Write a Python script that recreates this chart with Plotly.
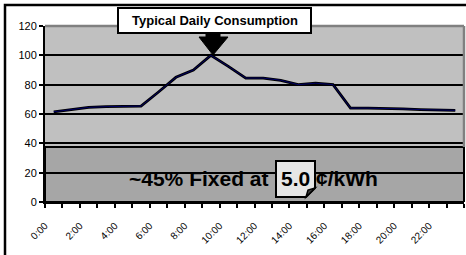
import plotly.graph_objects as go

# ---- data ----
hours = ["0:00", "1:00", "2:00", "3:00", "4:00", "5:00", "6:00", "7:00",
         "8:00", "9:00", "10:00", "11:00", "12:00", "13:00", "14:00", "15:00",
         "16:00", "17:00", "18:00", "19:00", "20:00", "21:00", "22:00", "23:00"]
consumption = [61.5, 63, 64.5, 65, 65.2, 65.4, 75, 85, 90, 100, 92.5, 84.5,
               84.5, 83, 80, 81, 80, 64, 64, 64, 63.5, 63, 63, 62.5]
y_ticks = [0, 20, 40, 60, 80, 100, 120]
fixed_level = 37.5
title_text = "Typical Daily Consumption"
fixed_text_left = "~45% Fixed at"
fixed_price = "5.0"
fixed_text_right = "¢/kWh"

# ---- layout geometry (pixels) ----
FIG_W, FIG_H = 466, 255
L, R, T, B = 45, 2, 26, 53
W = FIG_W - L - R
H = FIG_H - T - B


def px(x):
    return (x - L) / W


def py(y):
    return (T + H - y) / H


FONT = "Arial, Liberation Sans, sans-serif"
xpos = list(range(len(hours)))
# tick marks sit on category boundaries; labels every second hour
tick_pos = [i - 0.5 for i in range(len(hours) + 1)]
tick_txt = [hours[i] if (i < len(hours) and i % 2 == 0) else "" for i in range(len(hours) + 1)]

fig = go.Figure()
fig.add_trace(go.Scatter(x=xpos, y=consumption, mode="lines",
                         line=dict(color="black", width=2.8),
                         hoverinfo="skip", showlegend=False))
fig.add_trace(go.Scatter(x=xpos, y=consumption, mode="lines",
                         line=dict(color="#000080", width=0.8),
                         showlegend=False))

shapes = []
# fixed region
shapes.append(dict(type="rect", xref="paper", yref="y", x0=0, x1=1, y0=0,
                   y1=fixed_level, fillcolor="#A6A6A6",
                   line=dict(color="black", width=2), layer="between"))
# gray top/right border of plot
shapes.append(dict(type="line", xref="paper", yref="paper", x0=0, x1=1, y0=1, y1=1,
                   line=dict(color="#808080", width=2.5)))
shapes.append(dict(type="line", xref="paper", yref="paper", x0=1, x1=1,
                   y0=py(147), y1=1, line=dict(color="#808080", width=2.5)))
# outer frame
shapes.append(dict(type="path", xref="paper", yref="paper",
                   path=f"M {px(5)},{py(262)} L {px(5)},{py(5)} L {px(470)},{py(5)}",
                   line=dict(color="black", width=2.5)))
# title note box
shapes.append(dict(type="rect", xref="paper", yref="paper",
                   x0=px(118), x1=px(311), y0=py(33), y1=py(8),
                   fillcolor="white", line=dict(color="black", width=2)))
# block arrow
arrow = [(206, 33), (220, 33), (220, 37), (228, 37), (213, 55), (199, 37), (206, 37)]
path = "M " + " L ".join(f"{px(a)},{py(b)}" for a, b in arrow) + " Z"
shapes.append(dict(type="path", xref="paper", yref="paper", path=path,
                   fillcolor="black", line=dict(color="black", width=1)))
# price note box with folded corner
note = [(276, 161), (315, 161), (315, 188), (306, 197), (276, 197)]
path = "M " + " L ".join(f"{px(a)},{py(b)}" for a, b in note) + " Z"
shapes.append(dict(type="path", xref="paper", yref="paper", path=path,
                   fillcolor="#E6E6E6", line=dict(color="black", width=2)))
fold = [(306, 197), (308, 190), (315, 188)]
path = "M " + " L ".join(f"{px(a)},{py(b)}" for a, b in fold) + " Z"
shapes.append(dict(type="path", xref="paper", yref="paper", path=path,
                   fillcolor="#404040", line=dict(color="black", width=1.5)))

annotations = [
    dict(text=f"<b>{title_text}</b>", xref="paper", yref="paper",
         x=px(214.5), y=py(20.5), showarrow=False, xanchor="center", yanchor="middle",
         font=dict(family=FONT, size=13, color="black")),
    dict(text=f"<b>{fixed_text_left}</b>", xref="paper", yref="paper",
         x=px(270), y=py(178), showarrow=False, xanchor="right", yanchor="middle",
         font=dict(family=FONT, size=21, color="black")),
    dict(text=f"<b>{fixed_price}</b>", xref="paper", yref="paper",
         x=px(295.5), y=py(178), showarrow=False, xanchor="center", yanchor="middle",
         font=dict(family=FONT, size=21, color="black")),
    dict(text=f"<b>{fixed_text_right}</b>", xref="paper", yref="paper",
         x=px(314), y=py(178), showarrow=False, xanchor="left", yanchor="middle",
         font=dict(family=FONT, size=21, color="black")),
]

fig.update_layout(
    width=FIG_W, height=FIG_H,
    margin=dict(l=L, r=R, t=T, b=B, pad=0, autoexpand=False),
    paper_bgcolor="white", plot_bgcolor="#C0C0C0",
    shapes=shapes, annotations=annotations, showlegend=False,
    font=dict(family=FONT, color="black"),
    xaxis=dict(range=[-0.5, len(hours) - 0.5], tickmode="array",
               tickvals=tick_pos, ticktext=tick_txt, ticks="outside",
               ticklen=4, tickwidth=1.5, tickcolor="black",
               tickangle=-45, tickfont=dict(size=10, family=FONT),
               showgrid=False, zeroline=False, showline=True, automargin=False,
               linecolor="black", linewidth=2, ticklabelstandoff=8),
    yaxis=dict(range=[0, 120], tickmode="array", tickvals=y_ticks,
               ticks="outside", ticklen=4, tickwidth=1.5, tickcolor="black",
               tickfont=dict(size=11, family=FONT), automargin=False,
               showgrid=True, gridcolor="black", gridwidth=2,
               zeroline=False, showline=True, linecolor="black", linewidth=2),
)

fig.write_html("out.html", config={"displayModeBar": False},
               post_script="document.body.style.margin='0';document.body.style.overflow='hidden';")
